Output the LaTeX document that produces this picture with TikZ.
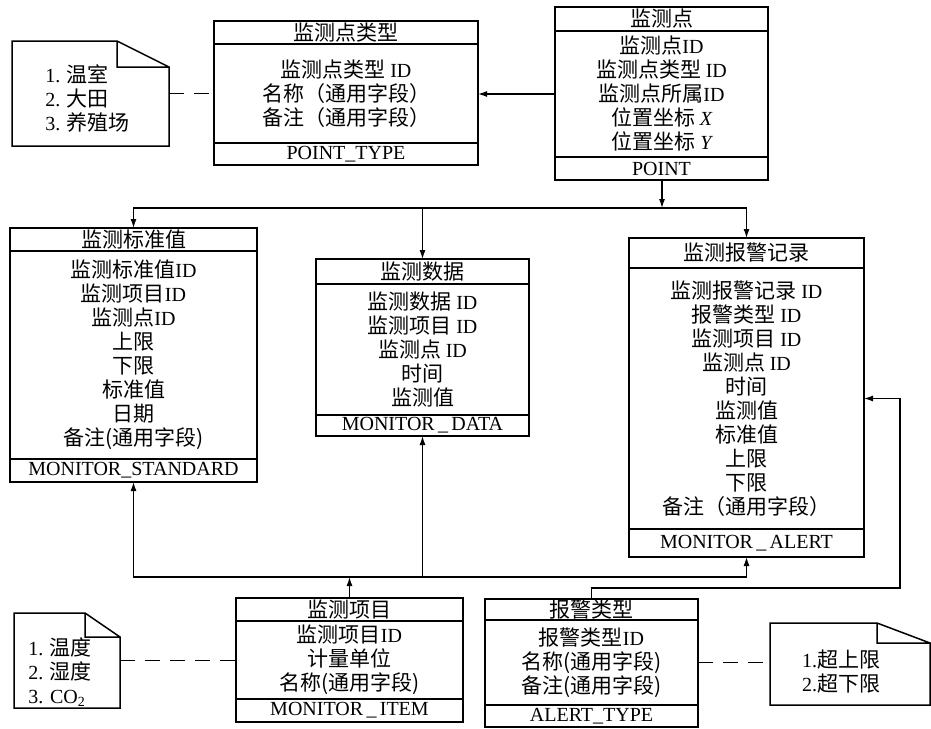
\documentclass[tikz,border=0pt]{standalone}
\usepackage{fontspec}
\setmainfont[Scale=1.05]{Noto Sans CJK SC}
\newfontfamily\en{Liberation Serif}
\usetikzlibrary{positioning,arrows.meta}

\begin{document}
\begin{tikzpicture}[x=1pt,y=-1pt,
  every node/.style={font=\fontsize{20}{24}\selectfont},
  tbl/.style={draw,line width=1.5pt,inner sep=0pt,outer sep=0pt,align=center,minimum width=#1},
  head/.style={tbl=#1},
  field/.style={tbl=#1},
  foot/.style={tbl=#1,font=\en\fontsize{20}{24}\selectfont},
  note/.style={inner sep=0pt,outer sep=0pt},
  notepen/.style={line width=1.5pt,line join=miter},
  notetext/.style={align=left,inner sep=0pt},
  arr/.style={line width=1.2pt,-{Latex[length=9pt,width=6pt]}},
  dashline/.style={line width=1.2pt,dash pattern=on 15pt off 10pt}]
\useasboundingbox (0,0) rectangle (931,728);

\node[head=264pt,minimum height=23pt,anchor=north west] (pt-h) at (214,21) {监测点类型};
\node[field=264pt,minimum height=99pt,below=0pt of pt-h] (pt-b) {监测点类型 {\en ID}\\名称（通用字段）\\备注（通用字段）};
\node[foot=264pt,minimum height=22pt,below=0pt of pt-b] (pt-f) {POINT\_TYPE};

\node[head=213pt,minimum height=24pt,anchor=north west] (p-h) at (555,7) {监测点};
\node[field=213pt,minimum height=126pt,below=0pt of p-h] (p-b) {监测点{\en ID}\\监测点类型 {\en ID}\\监测点所属{\en ID}\\位置坐标 {\en\itshape X}\\位置坐标 {\en\itshape Y}};
\node[foot=213pt,minimum height=23pt,below=0pt of p-b] (p-f) {POINT};

\node[head=247pt,minimum height=23pt,anchor=north west] (ms-h) at (10,228) {监测标准值};
\node[field=247pt,minimum height=208pt,below=0pt of ms-h] (ms-b) {监测标准值{\en ID}\\监测项目{\en ID}\\监测点{\en ID}\\上限\\下限\\标准值\\日期\\备注(通用字段)};
\node[foot=247pt,minimum height=23pt,below=0pt of ms-b] (ms-f) {MONITOR\_STANDARD};

\node[head=213pt,minimum height=25pt,anchor=north west] (md-h) at (316,259) {监测数据};
\node[field=213pt,minimum height=131pt,below=0pt of md-h] (md-b) {监测数据 {\en ID}\\监测项目 {\en ID}\\监测点 {\en ID}\\时间\\监测值};
\node[foot=213pt,minimum height=21pt,below=0pt of md-b] (md-f) {MONITOR\,\_\,DATA};

\node[head=235pt,minimum height=30pt,anchor=north west] (ma-h) at (629,238) {监测报警记录};
\node[field=235pt,minimum height=261pt,below=0pt of ma-h] (ma-b) {监测报警记录 {\en ID}\\报警类型 {\en ID}\\监测项目 {\en ID}\\监测点 {\en ID}\\时间\\监测值\\标准值\\上限\\下限\\备注（通用字段）};
\node[foot=235pt,minimum height=28pt,below=0pt of ma-b] (ma-f) {MONITOR\,\_\,ALERT};

\node[head=227pt,minimum height=23pt,anchor=north west] (mi-h) at (236,598) {监测项目};
\node[field=227pt,minimum height=78pt,below=0pt of mi-h] (mi-b) {监测项目{\en ID}\\计量单位\\名称(通用字段)};
\node[foot=227pt,minimum height=23pt,below=0pt of mi-b] (mi-f) {MONITOR\,\_\,ITEM};

\node[head=213pt,minimum height=21pt,anchor=north west] (at-h) at (485,599) {报警类型};
\node[field=213pt,minimum height=85pt,below=0pt of at-h] (at-b) {报警类型{\en ID}\\名称(通用字段)\\备注(通用字段)};
\node[foot=213pt,minimum height=22pt,below=0pt of at-b] (at-f) {ALERT\_TYPE};

\node[note,minimum width=157pt,minimum height=105pt] (n1) at (90.5,93.5) {};
\draw[notepen] (n1.north west) -- ([xshift=-52pt]n1.north east) -- ([yshift=-26pt]n1.north east) -- (n1.south east) -- (n1.south west) -- cycle ([xshift=-52pt]n1.north east) |- ([yshift=-26pt]n1.north east);
\node[notetext] (n1-t) at ([shift={(-3,5)}]n1.center) {{\en 1.} 温室\\{\en 2.} 大田\\{\en 3.} 养殖场};

\node[note,minimum width=106pt,minimum height=95pt] (n2) at (67,660.5) {};
\draw[notepen] (n2.north west) -- ([xshift=-35pt]n2.north east) -- ([yshift=-24pt]n2.north east) -- (n2.south east) -- (n2.south west) -- cycle ([xshift=-35pt]n2.north east) |- ([yshift=-24pt]n2.north east);
\node[notetext] (n2-t) at ([shift={(-7,12)}]n2.center) {{\en 1.} 温度\\{\en 2.} 湿度\\{\en 3. CO\textsubscript{2}}};

\node[note,minimum width=160pt,minimum height=82pt] (n3) at (850,664) {};
\draw[notepen] (n3.north west) -- ([xshift=-53pt]n3.north east) -- ([yshift=-20pt]n3.north east) -- (n3.south east) -- (n3.south west) -- cycle ([xshift=-53pt]n3.north east) |- ([yshift=-20pt]n3.north east);
\node[notetext] (n3-t) at ([shift={(-9,8)}]n3.center) {{\en 1.}超上限\\{\en 2.}超下限};

\draw[dashline] (n1.east) -- (n1.east -| pt-b.west);
\draw[dashline] (n2.east) -- (n2.east -| mi-b.west);
\draw[dashline] (at-b.east) -- (at-b.east -| n3.west);

\draw[arr] (p-b.west) -- (p-b.west -| pt-b.east);

\coordinate (top-bus) at (662,208);
\draw[arr] (p-f.south -| top-bus) -- (top-bus);
\draw[arr] (top-bus) -| (ms-h.north);
\draw[arr] (top-bus) -| (ma-h.north);
\draw[arr] (md-h.north |- top-bus) -- (md-h.north);

\coordinate (bot-bus) at (349.5,577);
\draw[arr] (mi-h.north) -- (bot-bus);
\draw[arr] (bot-bus) -| (ms-f.south);
\draw[arr] (bot-bus) -| (ma-f.south);
\draw[arr] (md-f.south |- bot-bus) -- (md-f.south);

\draw[arr] (at-h.north) -- ++(0,-11) -| ([xshift=36pt]ma-b.east) -- (ma-b.east);
\end{tikzpicture}
\end{document}
